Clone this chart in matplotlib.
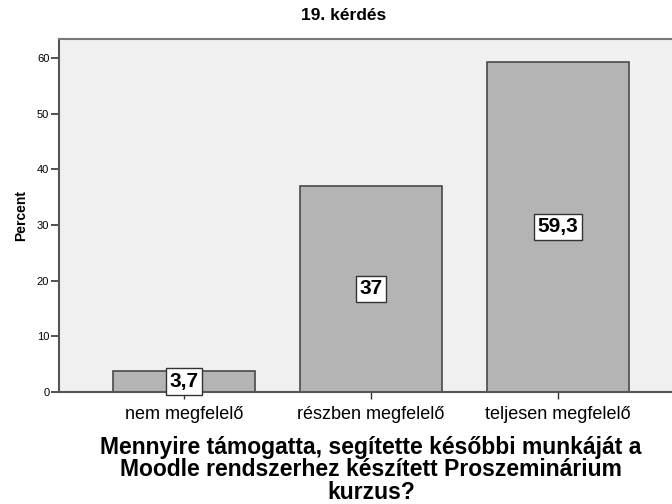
import matplotlib
matplotlib.use("Agg")
import matplotlib.pyplot as plt

categories = ["nem megfelelő", "részben megfelelő", "teljesen megfelelő"]
percent = [3.7, 37.0, 59.3]
value_labels = ["3,7", "37", "59,3"]
yticks = [0, 10, 20, 30, 40, 50, 60]

plt.rcParams['font.family'] = ['Liberation Sans', 'DejaVu Sans']

fig = plt.figure(figsize=(6.72, 5.04), dpi=100)
ax = fig.add_axes([59/672, 112/504, 624/672, 353/504])
ax.set_facecolor('#f0f0f0')

x = list(range(len(categories)))
ax.bar(x, percent, width=0.755, color='#b4b4b4', edgecolor='#4a4a4a', linewidth=1.2, zorder=2)

for xi, v, lab in zip(x, percent, value_labels):
    ax.text(xi, v / 2, lab, ha='center', va='center', fontsize=15, fontweight='bold',
            bbox=dict(boxstyle='square,pad=0.18', facecolor='white', edgecolor='#333333', linewidth=1.0),
            zorder=4)

ax.set_xlim(-0.668, 2.668)
ax.set_ylim(0, 63.4)
ax.set_xticks(x)
ax.set_xticklabels(categories, fontsize=13)
ax.set_yticks(yticks)
ax.set_yticklabels([str(t) for t in yticks], fontsize=8)
ax.tick_params(axis='y', direction='out', length=6, width=1.2, color='#333333', pad=1)
ax.tick_params(axis='x', direction='out', length=5, width=1.0, color='#333333', pad=5)

for s in ['top', 'right']:
    ax.spines[s].set_color('#777777')
    ax.spines[s].set_linewidth(1.5)
for s in ['left', 'bottom']:
    ax.spines[s].set_color('#555555')
    ax.spines[s].set_linewidth(1.5)

ax.set_ylabel('Percent', fontsize=10, fontweight='bold')
ax.yaxis.set_label_coords(-0.05, 0.5)

fig.text(344/672, 1 - 16/504, '19. kérdés', ha='center', va='center', fontsize=12.5, fontweight='bold')
fig.text(371/672, 1 - 470/504,
         'Mennyire támogatta, segítette későbbi munkáját a\nMoodle rendszerhez készített Proszeminárium\nkurzus?',
         ha='center', va='center', fontsize=16.5, fontweight='bold', linespacing=0.95)

fig.savefig('out.png', dpi=100)
